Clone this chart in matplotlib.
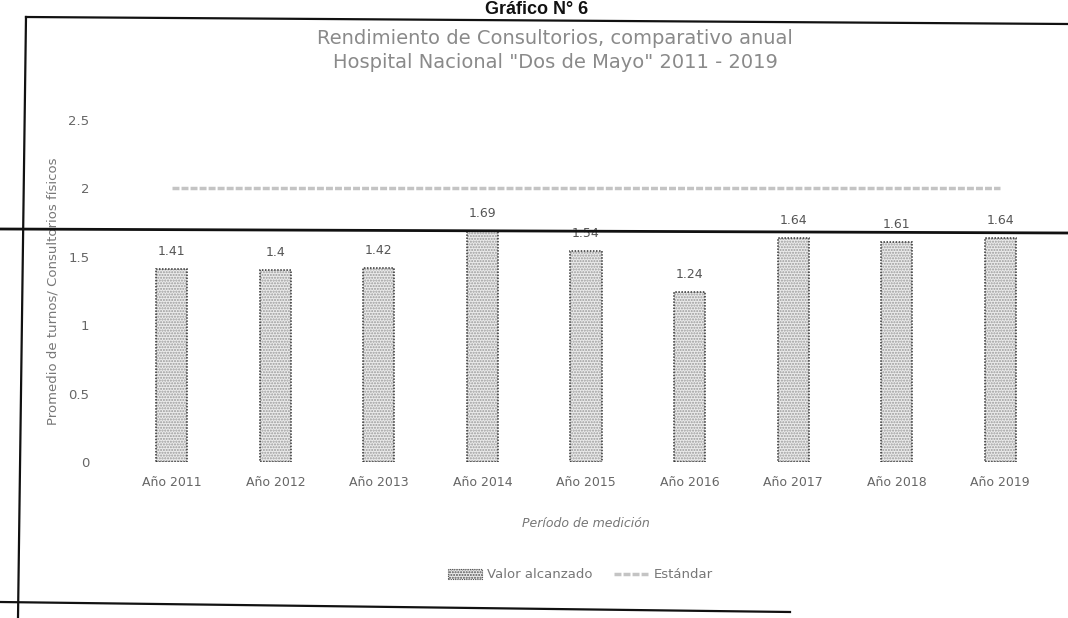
import numpy as np
import matplotlib
matplotlib.use('Agg')
import matplotlib.pyplot as plt
from matplotlib.lines import Line2D
from matplotlib.patches import Patch

anios = ['Año 2011', 'Año 2012', 'Año 2013', 'Año 2014', 'Año 2015',
         'Año 2016', 'Año 2017', 'Año 2018', 'Año 2019']
valor_alcanzado = [1.41, 1.4, 1.42, 1.69, 1.54, 1.24, 1.64, 1.61, 1.64]
estandar = [2, 2, 2, 2, 2, 2, 2, 2, 2]
y_ticks = [0, 0.5, 1, 1.5, 2, 2.5]

W, H = 1068, 618
plt.rcParams['font.family'] = ['DejaVu Sans']


def px(x, y):
    # pixel coordinates of the scan -> figure fraction
    return x / W, 1 - y / H


fig = plt.figure(figsize=(W / 100, H / 100), dpi=100)
ax = fig.add_axes([120 / W, (H - 462) / H, 932 / W, 342 / H])

x = np.arange(len(anios))
barras = ax.bar(x, valor_alcanzado, width=0.3, color='#ebebeb',
                edgecolor='#9a9a9a', linewidth=0, hatch='......')
ax.bar(x, valor_alcanzado, width=0.3, fill=False, edgecolor='#333333',
       linewidth=1.1, linestyle=(0, (1, 1)))
ax.bar_label(barras, labels=[f'{v:g}' for v in valor_alcanzado], padding=8,
             fontsize=9, color='#555555')

ax.plot(x, estandar, color='#c4c4c4', linewidth=2.5, linestyle=(0, (2, 0.6)))

ax.set_xlim(-0.5, len(anios) - 0.5)
ax.set_ylim(0, 2.5)
ax.set_yticks(y_ticks)
ax.set_yticklabels([f'{t:g}' for t in y_ticks], fontsize=9.5, color='#666666')
ax.set_xticks(x)
ax.set_xticklabels(anios, fontsize=9, color='#666666')
ax.tick_params(length=0, pad=10)
ax.tick_params(axis='y', pad=22)
for s in ax.spines.values():
    s.set_visible(False)

ax.set_xlabel('Período de medición', fontsize=9, style='italic',
              color='#777777', labelpad=20)
ax.set_ylabel('Promedio de turnos/ Consultorios físicos', fontsize=9.5,
              color='#777777', labelpad=6)

fig.text(*px(555, 38), 'Rendimiento de Consultorios, comparativo anual',
         ha='center', va='center', fontsize=14, color='#8a8a8a')
fig.text(*px(555, 63), 'Hospital Nacional "Dos de Mayo" 2011 - 2019',
         ha='center', va='center', fontsize=14, color='#8a8a8a')

fig.text(*px(537, 14), 'Gráfico N° 6', ha='center', va='baseline',
         fontsize=13, fontweight='bold', family='Liberation Sans',
         color='#111111')

handles = [Patch(facecolor='#ebebeb', edgecolor='#555555', hatch='......',
                 linewidth=0.8, linestyle=(0, (1, 1))),
           Line2D([], [], color='#c4c4c4', linewidth=2.5,
                  linestyle=(0, (2, 0.6)))]
fig.legend(handles, ['Valor alcanzado', 'Estándar'], loc='center',
           bbox_to_anchor=px(580, 575), ncol=2, frameon=False, fontsize=9.5,
           labelcolor='#777777', handlelength=2.6, handletextpad=0.4,
           columnspacing=1.6)

# marco y líneas del escaneo
for (x0, y0), (x1, y1), lw in [((26, 17), (1068, 24), 1.6),
                               ((26, 17), (18, 618), 1.6),
                               ((0, 602), (790, 612), 1.6),
                               ((0, 229), (1068, 233), 2.0)]:
    a, b = px(x0, y0)
    c, d = px(x1, y1)
    fig.add_artist(Line2D([a, c], [b, d], color='#111111', linewidth=lw))

fig.savefig('out.png', dpi=100)
plt.close(fig)
